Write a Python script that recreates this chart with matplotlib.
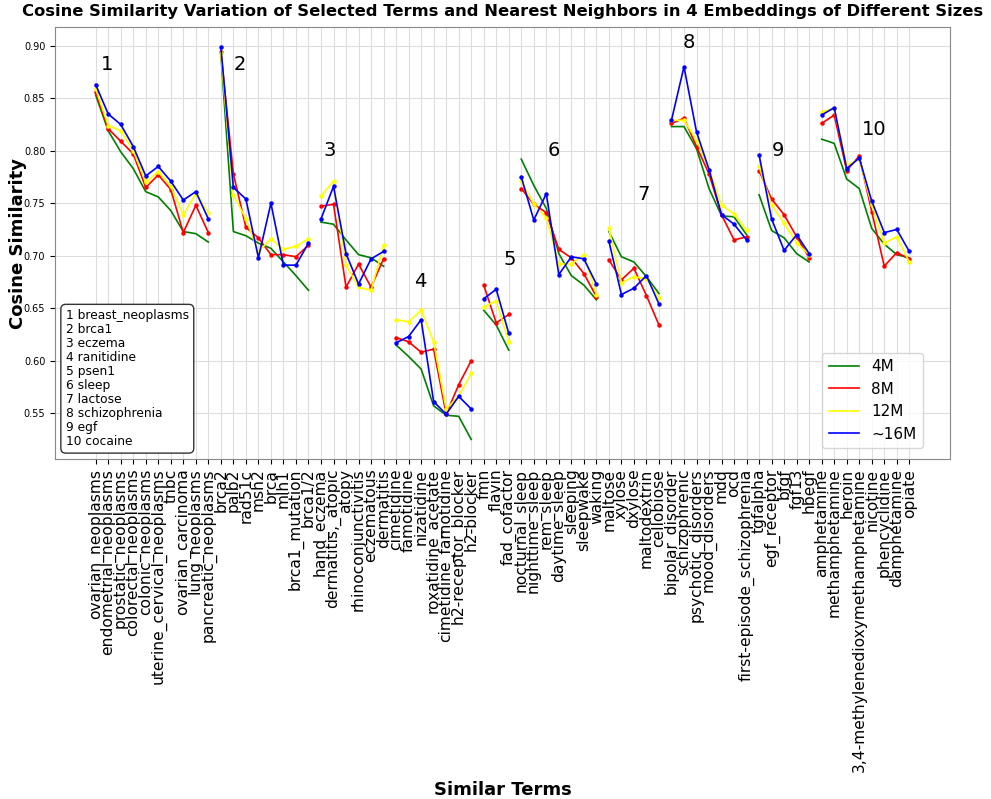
import numpy as np
import matplotlib
matplotlib.use('Agg')
import matplotlib.pyplot as plt

# Similar terms, grouped by query term
group_names = ['breast_neoplasms', 'brca1', 'eczema', 'ranitidine', 'psen1',
               'sleep', 'lactose', 'schizophrenia', 'egf', 'cocaine']
group_sizes = [10, 8, 6, 7, 3, 7, 5, 7, 5, 8]
terms = [
    'ovarian_neoplasms', 'endometrial_neoplasms', 'prostatic_neoplasms',
    'colorectal_neoplasms', 'colonic_neoplasms', 'uterine_cervical_neoplasms',
    'tnbc', 'ovarian_carcinoma', 'lung_neoplasms', 'pancreatic_neoplasms',
    'brca2', 'palb2', 'rad51c', 'msh2', 'brca', 'mlh1', 'brca1_mutation', 'brca1/2',
    'hand_eczema', 'dermatitis,_atopic', 'atopy', 'rhinoconjunctivitis',
    'eczematous', 'dermatitis',
    'cimetidine', 'famotidine', 'nizatidine', 'roxatidine_acetate',
    'cimetidine_famotidine', 'h2-receptor_blocker', 'h2-blocker',
    'fmn', 'flavin', 'fad_cofactor',
    'nocturnal_sleep', 'nighttime_sleep', 'rem_sleep', 'daytime_sleep',
    'sleeping', 'sleepwake', 'waking',
    'maltose', 'xylose', 'dxylose', 'maltodextrin', 'cellobiose',
    'bipolar_disorder', 'schizophrenic', 'psychotic_disorders', 'mood_disorders',
    'mdd', 'ocd', 'first-episode_schizophrenia',
    'tgfalpha', 'egf_receptor', 'bfgf', 'fgf13', 'hbegf',
    'amphetamine', 'methamphetamine', 'heroin', '3,4-methylenedioxymethamphetamine',
    'nicotine', 'phencyclidine', 'damphetamine', 'opiate',
]

sim_4m = [
    0.853, 0.819, 0.799, 0.783, 0.761, 0.756, 0.743, 0.723, 0.721, 0.713,
    0.892, 0.723, 0.719, 0.712, 0.707, 0.694, 0.681, 0.667,
    0.732, 0.730, 0.715, 0.701, 0.698, 0.690,
    0.615, 0.604, 0.592, 0.557, 0.548, 0.547, 0.525,
    0.648, 0.634, 0.610,
    0.792, 0.767, 0.745, 0.702, 0.681, 0.672, 0.658,
    0.723, 0.699, 0.694, 0.680, 0.664,
    0.823, 0.823, 0.802, 0.764, 0.738, 0.737, 0.720,
    0.758, 0.724, 0.717, 0.702, 0.694,
    0.811, 0.807, 0.773, 0.764, 0.726, 0.711, 0.701, 0.698,
]
sim_8m = [
    0.856, 0.821, 0.809, 0.797, 0.765, 0.777, 0.763, 0.722, 0.748, 0.722,
    0.894, 0.778, 0.727, 0.717, 0.701, 0.701, 0.699, 0.710,
    0.747, 0.749, 0.670, 0.692, 0.670, 0.697,
    0.622, 0.618, 0.608, 0.611, 0.549, 0.577, 0.600,
    0.672, 0.636, 0.644,
    0.764, 0.749, 0.741, 0.706, 0.698, 0.683, 0.661,
    0.696, 0.677, 0.688, 0.662, 0.634,
    0.826, 0.831, 0.804, 0.778, 0.739, 0.715, 0.718,
    0.781, 0.754, 0.739, 0.718, 0.698,
    0.826, 0.834, 0.781, 0.795, 0.742, 0.690, 0.703, 0.697,
]
sim_12m = [
    0.859, 0.824, 0.819, 0.800, 0.770, 0.780, 0.766, 0.739, 0.759, 0.741,
    0.893, 0.758, 0.735, 0.704, 0.716, 0.706, 0.709, 0.716,
    0.757, 0.771, 0.691, 0.670, 0.667, 0.710,
    0.639, 0.637, 0.648, 0.618, 0.554, 0.566, 0.588,
    0.651, 0.657, 0.618,
    0.771, 0.749, 0.736, 0.692, 0.692, 0.701, 0.663,
    0.726, 0.674, 0.680, 0.678, 0.660,
    0.829, 0.829, 0.810, 0.783, 0.748, 0.740, 0.724,
    0.785, 0.748, 0.731, 0.712, 0.701,
    0.837, 0.840, 0.786, 0.792, 0.748, 0.712, 0.718, 0.694,
]
sim_16m = [
    0.863, 0.835, 0.825, 0.804, 0.776, 0.785, 0.771, 0.753, 0.761, 0.735,
    0.899, 0.765, 0.754, 0.698, 0.750, 0.691, 0.691, 0.712,
    0.735, 0.766, 0.702, 0.673, 0.697, 0.704,
    0.617, 0.623, 0.639, 0.561, 0.549, 0.566, 0.554,
    0.659, 0.668, 0.626,
    0.775, 0.734, 0.759, 0.682, 0.699, 0.697, 0.673,
    0.714, 0.663, 0.669, 0.681, 0.654,
    0.829, 0.880, 0.818, 0.782, 0.739, 0.730, 0.715,
    0.796, 0.735, 0.705, 0.720, 0.702,
    0.834, 0.841, 0.783, 0.793, 0.752, 0.722, 0.725, 0.704,
]

# where the group numbers sit (x index, similarity)
group_label_pos = [(0.9, 0.882), (11.5, 0.882), (18.7, 0.800), (25.9, 0.675),
                   (33.1, 0.696), (36.6, 0.800), (43.8, 0.758), (47.4, 0.903),
                   (54.5, 0.800), (62.2, 0.820)]

series = [
    ('4M', sim_4m, 'green', False),
    ('8M', sim_8m, 'red', True),
    ('12M', sim_12m, 'yellow', True),
    ('~16M', sim_16m, 'blue', True),
]

fig = plt.figure(figsize=(9.91, 7.99), dpi=100)
ax = fig.add_axes([0.0555, 0.4255, 0.9031, 0.5405])

x = np.arange(len(terms))
bounds = np.cumsum([0] + group_sizes)

for label, vals, color, dots in series:
    vals = np.array(vals)
    for g in range(len(group_sizes)):
        s, e = bounds[g], bounds[g + 1]
        ax.plot(x[s:e], vals[s:e], color=color, linewidth=1.2,
                label=label if g == 0 else None)
        if dots:
            ax.plot(x[s:e], vals[s:e], 'o', color=color, markersize=2.2)

for i, (gx, gy) in enumerate(group_label_pos):
    ax.text(gx, gy, str(i + 1), fontsize=14, ha='center', va='center')

ax.set_xticks(x)
ax.set_xticklabels(terms, rotation=90, fontsize=11.2)
ax.tick_params(axis='y', labelsize=7)
ax.grid(True, color='#dddddd', linewidth=0.8)
ax.set_axisbelow(True)
for sp in ax.spines.values():
    sp.set_color('#888888')

ax.set_title('Cosine Similarity Variation of Selected Terms and Nearest Neighbors in 4 Embeddings of Different Sizes',
             fontsize=11.8, fontweight='bold', pad=8)
ax.set_ylabel('Cosine Similarity', fontsize=13, fontweight='bold')
ax.yaxis.set_label_coords(-0.031, 0.5)
ax.set_xlabel('Similar Terms', fontsize=13, fontweight='bold')
ax.xaxis.set_label_coords(0.5, -0.745)

key_text = '\n'.join(f'{i + 1} {n}' for i, n in enumerate(group_names))
ax.text(0.012, 0.025, key_text, transform=ax.transAxes, fontsize=8.8,
        va='bottom', ha='left', linespacing=1.1,
        bbox=dict(boxstyle='round,pad=0.4', fc='white', ec='#333333'))

ax.legend(loc='lower right', bbox_to_anchor=(0.978, 0.008), fontsize=11)

fig.savefig('out.png', dpi=100)
